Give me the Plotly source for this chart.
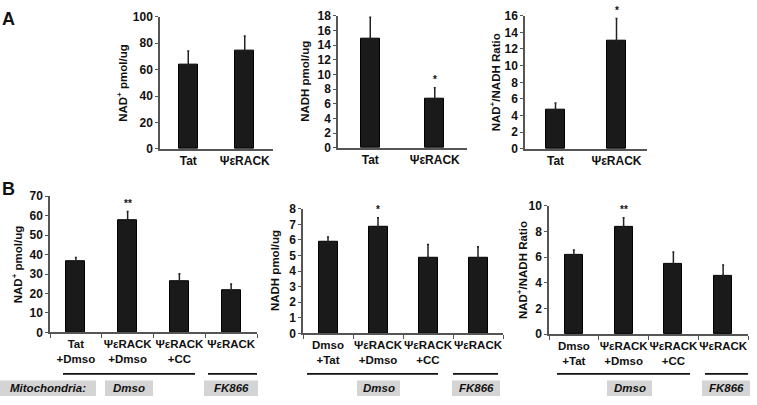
import plotly.graph_objects as go

W, H = 757, 405

# ---------------- data ----------------
a_cats = ["Tat", "ΨεRACK"]
a_nad = [63.5, 74.4]
a_nad_err = [10.5, 11.0]
a_nad_sig = ["", ""]
a_nadh = [14.9, 6.7]
a_nadh_err = [2.9, 1.5]
a_nadh_sig = ["", "*"]
a_ratio = [4.7, 13.0]
a_ratio_err = [0.8, 2.65]
a_ratio_sig = ["", "*"]

b1_cats = ["Tat<br>+Dmso", "ΨεRACK<br>+Dmso", "ΨεRACK<br>+CC", "ΨεRACK"]
b23_cats = ["Dmso<br>+Tat", "ΨεRACK<br>+Dmso", "ΨεRACK<br>+CC", "ΨεRACK"]
b_nad = [36.5, 57.6, 26.5, 21.6]
b_nad_err = [2.0, 4.5, 3.6, 3.3]
b_nad_sig = ["", "**", "", ""]
b_nadh = [5.87, 6.84, 4.87, 4.83]
b_nadh_err = [0.31, 0.58, 0.83, 0.73]
b_nadh_sig = ["", "*", "", ""]
b_ratio = [6.2, 8.4, 5.45, 4.57]
b_ratio_err = [0.37, 0.68, 0.95, 0.83]
b_ratio_sig = ["", "**", "", ""]

# ---------------- helpers ----------------
def px(x):
    return x / W

def py(y):
    return 1 - y / H

FONT = "Liberation Sans, Arial, sans-serif"
AXC = "#555555"

panels = [
    # data, err, sig, cats, x-px, y-px, yrange, dtick, title, bar width, title x px, grouped
    (a_nad, a_nad_err, a_nad_sig, a_cats, (160, 273), (10, 147), 100, 20, "NAD<sup>+</sup> pmol/ug", 0.34, 122, False),
    (a_nadh, a_nadh_err, a_nadh_sig, a_cats, (338, 467), (9, 146), 18, 2, "NADH pmol/ug", 0.30, 305, False),
    (a_ratio, a_ratio_err, a_ratio_sig, a_cats, (525, 647), (9, 147), 16, 2, "NAD<sup>+</sup>/NADH Ratio", 0.30, 495, False),
    (b_nad, b_nad_err, b_nad_sig, b1_cats, (50, 257), (196, 337), 70, 10, "NAD<sup>+</sup> pmol/ug", 0.37, 17, True),
    (b_nadh, b_nadh_err, b_nadh_sig, b23_cats, (303, 503), (209, 338), 8, 1, "NADH pmol/ug", 0.38, 275, True),
    (b_ratio, b_ratio_err, b_ratio_sig, b23_cats, (549, 748), (206, 339), 10, 2, "NAD<sup>+</sup>/NADH Ratio", 0.36, 522, True),
]

fig = go.Figure()
annotations = []
shapes = []
layout_axes = {}

for i, (vals, errs, sigs, cats, xpx, ypx, ymax, dtick, title, bw, tx, grouped) in enumerate(panels):
    n = i + 1
    xa = "x" if n == 1 else f"x{n}"
    ya = "y" if n == 1 else f"y{n}"
    xkey = "xaxis" if n == 1 else f"xaxis{n}"
    ykey = "yaxis" if n == 1 else f"yaxis{n}"
    xs = list(range(len(vals)))
    fig.add_trace(go.Bar(
        x=xs, y=vals, width=bw, xaxis=xa, yaxis=ya,
        marker=dict(color="#1a1a1a", line=dict(color="#000000", width=1)),
        error_y=dict(type="data", array=errs, arrayminus=[0] * len(errs), symmetric=False,
                     color="#222222", thickness=1.5, width=1),
        showlegend=False, hoverinfo="skip",
    ))
    xaxis = dict(
        domain=[px(xpx[0]), px(xpx[1])], anchor=ya,
        range=[-0.5, len(vals) - 0.5], tickmode="array", tickvals=xs, ticktext=cats,
        showline=True, linecolor=AXC, linewidth=1.5, ticks="", showgrid=False, zeroline=False,
        tickangle=0,
        tickfont=dict(family=FONT, size=12 if not grouped else 11.5, color="#111111", weight="bold"),
        fixedrange=True,
    )
    if grouped:
        xaxis["minor"] = dict(tickmode="array", tickvals=[k - 0.5 for k in range(len(vals) + 1)],
                              ticks="outside", ticklen=4, tickwidth=1.2, tickcolor=AXC)
    yaxis = dict(
        domain=[py(ypx[1]), py(ypx[0])], anchor=xa,
        range=[0, ymax], dtick=dtick, tick0=0,
        showline=True, linecolor=AXC, linewidth=1.5, ticks="outside", ticklen=3,
        tickwidth=1.2, tickcolor=AXC, showgrid=False, zeroline=False,
        tickfont=dict(family=FONT, size=12, color="#111111", weight="bold"),
        fixedrange=True,
    )
    layout_axes[xkey] = xaxis
    layout_axes[ykey] = yaxis
    # axis title
    annotations.append(dict(
        xref="paper", yref="paper", x=px(tx), y=py((ypx[0] + ypx[1]) / 2),
        text=title, textangle=-90, showarrow=False, xanchor="center", yanchor="middle",
        font=dict(family=FONT, size=11.5, color="#111111", weight="bold"),
    ))
    # significance stars
    for k, s in enumerate(sigs):
        if s:
            annotations.append(dict(
                xref=xa, yref=ya, x=k, y=vals[k] + errs[k], text=s, showarrow=False,
                xanchor="center", yanchor="bottom", yshift=1,
                font=dict(family=FONT, size=10, color="#111111", weight="bold"),
            ))

# panel letters
annotations.append(dict(xref="paper", yref="paper", x=px(0), y=py(12), text="A", showarrow=False,
                        xanchor="left", yanchor="middle",
                        font=dict(family=FONT, size=18, color="#111111", weight="bold")))
annotations.append(dict(xref="paper", yref="paper", x=px(0), y=py(188), text="B", showarrow=False,
                        xanchor="left", yanchor="middle",
                        font=dict(family=FONT, size=18, color="#111111", weight="bold")))

# grouping lines (pixel positions)
group_lines = [(63, 195), (208, 257), (307, 438), (453, 498), (557, 690), (705, 748)]
for x0, x1 in group_lines:
    shapes.append(dict(type="line", xref="paper", yref="paper", x0=px(x0), x1=px(x1),
                       y0=py(380), y1=py(380), line=dict(color="#111111", width=1.8)))

# gray label boxes
boxes = [
    (0, 96, "Mitochondria:"), (105, 153, "Dmso"), (204, 258, "FK866"),
    (357, 400, "Dmso"), (452, 500, "FK866"),
    (607, 652, "Dmso"), (702, 750, "FK866"),
]
for x0, x1, t in boxes:
    shapes.append(dict(type="rect", xref="paper", yref="paper", x0=px(x0), x1=px(x1),
                       y0=py(403), y1=py(387), fillcolor="#d4d4d4", line=dict(width=0), layer="below"))
    annotations.append(dict(xref="paper", yref="paper", x=px((x0 + x1) / 2), y=py(395), text=f"<i>{t}</i>",
                            showarrow=False, xanchor="center", yanchor="middle",
                            font=dict(family=FONT, size=11.5, color="#111111", weight="bold")))

fig.update_layout(
    width=W, height=H, margin=dict(l=0, r=0, t=0, b=0),
    paper_bgcolor="white", plot_bgcolor="white",
    annotations=annotations, shapes=shapes, bargap=0,
    **layout_axes,
)

fig.write_html("out.html", config={"displayModeBar": False},
               post_script="document.body.style.margin='0';document.body.style.overflow='hidden';")
